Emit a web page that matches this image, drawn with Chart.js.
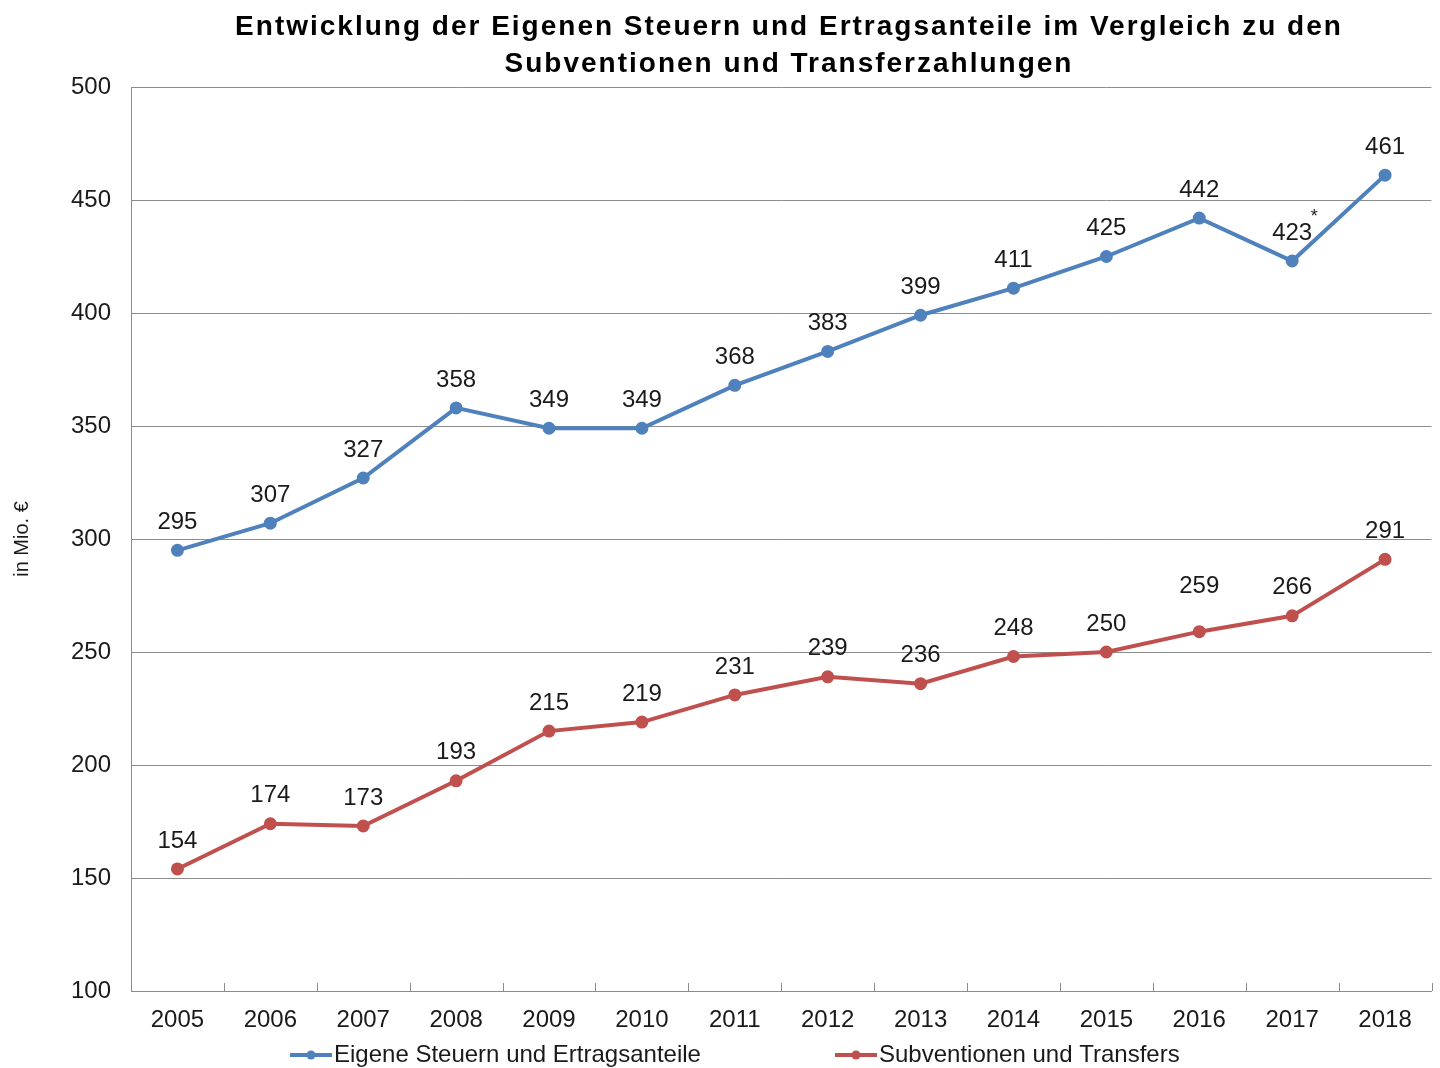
<!DOCTYPE html>
<html>
<head>
<meta charset="utf-8">
<script src="https://cdn.jsdelivr.net/npm/chart.js"></script>
<style>
  html, body { margin: 0; padding: 0; background: #fff; }
  #wrap { width: 1440px; height: 1068px; }
</style>
</head>
<body>
<div id="wrap"><canvas id="chart" width="1440" height="1068"></canvas></div>
<script>
// Data
const years = ['2005', '2006', '2007', '2008', '2009', '2010', '2011', '2012', '2013', '2014', '2015', '2016', '2017', '2018'];
const eigeneSteuern = [295, 307, 327, 358, 349, 349, 368, 383, 399, 411, 425, 442, 423, 461];
const subventionen = [154, 174, 173, 193, 215, 219, 231, 239, 236, 248, 250, 259, 266, 291];
const yTicks = [100, 150, 200, 250, 300, 350, 400, 450, 500];

const titleLines = ['Entwicklung der Eigenen Steuern und Ertragsanteile im Vergleich zu den', 'Subventionen und Transferzahlungen'];
const fontFamily = '"Liberation Sans", Arial, sans-serif';

// Draws title, value labels, inner x ticks and the legend
const decorations = {
    id: 'decorations',
    afterDatasetsDraw(chart) {
        const ctx = chart.ctx;
        const area = chart.chartArea;
        const xScale = chart.scales.x;

        ctx.save();

        // x axis tick marks, pointing into the plot between categories
        ctx.strokeStyle = '#8c8c8c';
        ctx.lineWidth = 1;
        for (let i = 0; i <= years.length; i++) {
            const px = Math.round(xScale.getPixelForValue(i - 0.5)) + 0.5;
            ctx.beginPath();
            ctx.moveTo(px, area.bottom);
            ctx.lineTo(px, area.bottom - 8);
            ctx.stroke();
        }

        // value labels above each point
        ctx.fillStyle = '#1a1a1a';
        ctx.font = '24px ' + fontFamily;
        ctx.textAlign = 'center';
        ctx.textBaseline = 'middle';
        chart.data.datasets.forEach((ds, di) => {
            const meta = chart.getDatasetMeta(di);
            meta.data.forEach((pt, i) => {
                let lift = 28;
                if (di === 1 && i === 11) lift = 45;
                ctx.fillText(String(ds.data[i]), pt.x, pt.y - lift);
                if (di === 0 && i === 12) {
                    ctx.font = '18px ' + fontFamily;
                    ctx.fillText('*', pt.x + 22, pt.y - 44);
                    ctx.font = '24px ' + fontFamily;
                }
            });
        });

        // title, slightly spaced out like the original
        ctx.fillStyle = '#000';
        ctx.font = 'bold 28px ' + fontFamily;
        ctx.letterSpacing = '2px';
        ctx.fillText(titleLines[0], 789, 27);
        ctx.fillText(titleLines[1], 789, 64);
        ctx.letterSpacing = '0px';

        // legend
        const legendY = 1055;
        const legendX = [290, 835];
        ctx.font = '24px ' + fontFamily;
        ctx.textAlign = 'left';
        chart.data.datasets.forEach((ds, di) => {
            const x0 = legendX[di];
            ctx.strokeStyle = ds.borderColor;
            ctx.lineWidth = 4;
            ctx.beginPath();
            ctx.moveTo(x0, legendY);
            ctx.lineTo(x0 + 42, legendY);
            ctx.stroke();
            ctx.fillStyle = ds.borderColor;
            ctx.beginPath();
            ctx.arc(x0 + 21, legendY, 4.5, 0, Math.PI * 2);
            ctx.fill();
            ctx.fillStyle = '#1a1a1a';
            ctx.fillText(ds.label, x0 + 44, legendY);
        });

        ctx.restore();
    }
};

new Chart(document.getElementById('chart'), {
    type: 'line',
    data: {
        labels: years,
        datasets: [
            {
                label: 'Eigene Steuern und Ertragsanteile',
                data: eigeneSteuern,
                borderColor: '#4f81bd',
                backgroundColor: '#4f81bd',
                borderWidth: 4,
                pointRadius: 4.5,
                pointHoverRadius: 4.5,
                tension: 0
            },
            {
                label: 'Subventionen und Transfers',
                data: subventionen,
                borderColor: '#c0504d',
                backgroundColor: '#c0504d',
                borderWidth: 4,
                pointRadius: 4.5,
                pointHoverRadius: 4.5,
                tension: 0
            }
        ]
    },
    options: {
        responsive: false,
        animation: false,
        layout: { padding: { top: 87, right: 6, bottom: 0, left: 0 } },
        plugins: {
            legend: { display: false },
            title: { display: false },
            tooltip: { enabled: false }
        },
        scales: {
            x: {
                offset: true,
                grid: { display: false },
                border: { color: '#8c8c8c', width: 1 },
                ticks: {
                    color: '#1a1a1a',
                    font: { family: fontFamily, size: 24 },
                    padding: 7,
                    maxRotation: 0
                },
                afterFit: s => { s.height = 77; }
            },
            y: {
                min: 100,
                max: 500,
                afterBuildTicks: s => { s.ticks = yTicks.map(v => ({ value: v })); },
                grid: { color: '#8c8c8c', lineWidth: 1, drawTicks: false },
                border: { color: '#8c8c8c', width: 1 },
                ticks: {
                    color: '#1a1a1a',
                    font: { family: fontFamily, size: 24 },
                    padding: 20
                },
                title: {
                    display: true,
                    text: 'in Mio. €',
                    color: '#1a1a1a',
                    font: { family: fontFamily, size: 20 },
                    padding: { top: 10, bottom: 0 }
                },
                afterFit: s => { s.width = 131; }
            }
        }
    },
    plugins: [decorations]
});
</script>
</body>
</html>
